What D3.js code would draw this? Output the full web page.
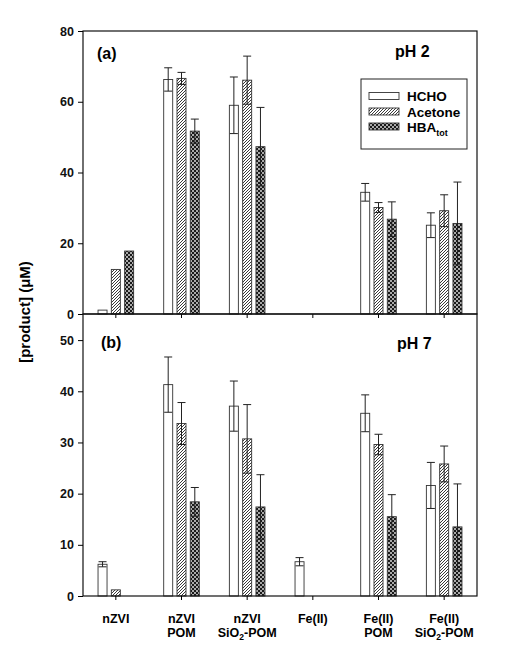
<!DOCTYPE html>
<html><head><meta charset="utf-8">
<script src="https://cdn.jsdelivr.net/npm/d3@7"></script>
<style>body{margin:0;background:#fff}svg{display:block}text{font-family:Arial,"Liberation Sans",sans-serif;font-weight:bold}</style>
</head><body><div id="c"></div>
<script>
const categories = ["nZVI","nZVI POM","nZVI SiO2-POM","Fe(II)","Fe(II) POM","Fe(II) SiO2-POM"];
const series = ["HCHO","Acetone","HBA"];
// pH 2
const hchoA = [1.1, 66.3, 59.0, 0, 34.4, 25.1];
const hchoAErr = [0, 3.3, 8.0, 0, 2.5, 3.5];
const acetoneA = [12.6, 66.6, 66.1, 0, 30.1, 29.2];
const acetoneAErr = [0, 1.7, 6.8, 0, 1.4, 4.5];
const hbaA = [17.8, 51.7, 47.3, 0, 26.8, 25.6];
const hbaAErr = [0, 3.4, 11.1, 0, 4.9, 11.7];
// pH 7
const hchoB = [6.2, 41.3, 37.1, 6.7, 35.7, 21.6];
const hchoBErr = [0.5, 5.4, 4.9, 0.8, 3.6, 4.5];
const acetoneB = [1.2, 33.7, 30.7, 0, 29.6, 25.8];
const acetoneBErr = [0, 4.1, 6.7, 0, 2.0, 3.5];
const hbaB = [0, 18.4, 17.4, 0, 15.5, 13.5];
const hbaBErr = [0, 2.8, 6.3, 0, 4.3, 8.4];
const ticksA = [0,20,40,60,80];
const ticksB = [0,10,20,30,40,50];

const W=507,H=663, L=83, R=477;
const svg=d3.select("#c").append("svg").attr("width",W).attr("height",H);
const defs=svg.append("defs");
const hatch=defs.append("pattern").attr("id","hatch").attr("patternUnits","userSpaceOnUse").attr("width",3).attr("height",3);
hatch.append("rect").attr("width",3).attr("height",3).attr("fill","#fff");
hatch.append("path").attr("d","M-1,1 l2,-2 M0,3 l3,-3 M2,4 l2,-2").attr("stroke","#222").attr("stroke-width",0.9);
const cross=defs.append("pattern").attr("id","cross").attr("patternUnits","userSpaceOnUse").attr("width",4).attr("height",4);
cross.append("rect").attr("width",4).attr("height",4).attr("fill","#aaa");
cross.append("rect").attr("width",2).attr("height",2).attr("fill","#1a1a1a");
cross.append("rect").attr("x",2).attr("y",2).attr("width",2).attr("height",2).attr("fill","#1a1a1a");
const fills={HCHO:"#fff",Acetone:"url(#hatch)",HBA:"url(#cross)"};

const x=d3.scaleBand().domain(categories).range([L,R]).padding(0);
const xs=d3.scalePoint().domain(series).range([-13.3,13.3]);
const bw=9;

function panel(top,bottom,max,ticks,vals,errs){
  const y=d3.scaleLinear().domain([0,max]).range([bottom,top]);
  const g=svg.append("g");
  series.forEach((s,si)=>{
    categories.forEach((c,ci)=>{
      const v=vals[si][ci], e=errs[si][ci];
      const cx=x(c)+x.bandwidth()/2+xs(s);
      g.append("rect").attr("x",cx-bw/2).attr("y",y(v)).attr("width",bw).attr("height",y(0)-y(v))
        .attr("fill",fills[s]).attr("stroke","#333").attr("stroke-width",0.9);
      if(e>0){
        const eg=g.append("g").attr("stroke","#222").attr("stroke-width",1);
        eg.append("line").attr("x1",cx).attr("x2",cx).attr("y1",y(v-e)).attr("y2",y(v+e));
        [v-e,v+e].forEach(t=>eg.append("line").attr("x1",cx-4).attr("x2",cx+4).attr("y1",y(t)).attr("y2",y(t)));
      }
    });
  });
  svg.append("rect").attr("x",L).attr("y",top).attr("width",R-L).attr("height",bottom-top).attr("fill","none").attr("stroke","#111").attr("stroke-width",1.2);
  const ya=svg.append("g").attr("transform",`translate(${L},0)`).call(d3.axisLeft(y).tickValues(ticks).tickSize(5).tickPadding(4));
  ya.select(".domain").remove();
  ya.selectAll("text").attr("font-size",12.5).attr("fill","#111");
  const xa=svg.append("g").attr("transform",`translate(0,${bottom})`).call(d3.axisBottom(x).tickSize(4).tickFormat(""));
  xa.select(".domain").remove();
  return y;
}
panel(31,314,80,ticksA,[hchoA,acetoneA,hbaA],[hchoAErr,acetoneAErr,hbaAErr]);
panel(314,596,55.1,ticksB,[hchoB,acetoneB,hbaB],[hchoBErr,acetoneBErr,hbaBErr]);

svg.append("text").attr("x",97).attr("y",59).attr("font-size",16).text("(a)");
svg.append("text").attr("x",395).attr("y",57).attr("font-size",16).text("pH 2");
svg.append("text").attr("x",101).attr("y",348).attr("font-size",16).text("(b)");
svg.append("text").attr("x",397).attr("y",349).attr("font-size",16).text("pH 7");

svg.append("text").attr("transform","translate(30,312) rotate(-90)").attr("text-anchor","middle").attr("font-size",15).text("[product] (\u03bcM)");

// x labels
const lbl=[["nZVI"],["nZVI","POM"],["nZVI","SiO2-POM"],["Fe(II)"],["Fe(II)","POM"],["Fe(II)","SiO2-POM"]];
categories.forEach((c,i)=>{
  const cx=x(c)+x.bandwidth()/2;
  lbl[i].forEach((t,j)=>{
    const tx=svg.append("text").attr("x",cx).attr("y",623+j*14).attr("text-anchor","middle").attr("font-size",12.5);
    if(t.includes("SiO2")){
      tx.append("tspan").text("SiO");
      tx.append("tspan").attr("font-size",8.5).attr("dy",3).text("2");
      tx.append("tspan").attr("dy",-3).text("-POM");
    } else tx.text(t);
  });
});

// legend
const lg=svg.append("g");
lg.append("rect").attr("x",361).attr("y",79).attr("width",106).attr("height",70).attr("fill","#fff").attr("stroke","#222").attr("stroke-width",1);
const ly=[96,111.5,126.5];
series.forEach((s,i)=>{
  lg.append("rect").attr("x",369).attr("y",ly[i]-3.5).attr("width",30).attr("height",7).attr("fill",fills[s]).attr("stroke","#333").attr("stroke-width",0.9);
  const t=lg.append("text").attr("x",407).attr("y",ly[i]+5).attr("font-size",13.5);
  if(s==="HBA"){t.append("tspan").text("HBA");t.append("tspan").attr("font-size",9).attr("dy",4).text("tot");}
  else t.text(s);
});
</script></body></html>
